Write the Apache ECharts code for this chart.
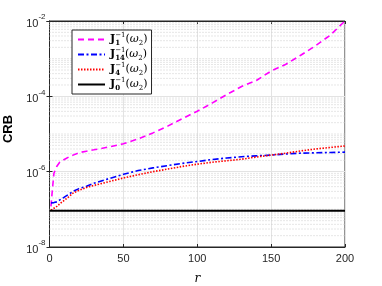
<!DOCTYPE html>
<html><head><meta charset="utf-8">
<script src="https://cdn.jsdelivr.net/npm/echarts@6/dist/echarts.min.js"></script>
<style>html,body{margin:0;padding:0;background:#fff}#c{width:382px;height:286px}</style>
</head><body><div id="c"></div>
<script>
// ---- data ----
const r = [1,2,3,5,7,10,13,16,20,25,30,40,50,60,70,80,90,100,110,120,130,140,150,160,170,180,190,200];
const crbJ1 = [1.2e-7,3.5e-7,9.1e-7,1.4e-6,1.8e-6,2.1e-6,2.45e-6,2.75e-6,3.2e-6,3.5e-6,3.8e-6,4.5e-6,5.5e-6,7.4e-6,1.07e-5,1.62e-5,2.57e-5,4.0e-5,6.6e-5,1.12e-4,1.82e-4,2.63e-4,4.7e-4,7.1e-4,1.23e-3,2.2e-3,4.2e-3,1.0e-2];
const crbJ14 = [1.48e-7,1.48e-7,1.51e-7,1.58e-7,1.78e-7,2.1e-7,2.5e-7,3.0e-7,3.55e-7,4.1e-7,4.9e-7,6.5e-7,8.5e-7,1.07e-6,1.26e-6,1.45e-6,1.66e-6,1.86e-6,2.1e-6,2.3e-6,2.5e-6,2.63e-6,2.75e-6,2.95e-6,3.1e-6,3.16e-6,3.24e-6,3.3e-6];
const crbJ4 = [9.5e-8,1.0e-7,1.07e-7,1.2e-7,1.41e-7,1.74e-7,2.14e-7,2.7e-7,3.2e-7,3.8e-7,4.3e-7,5.4e-7,6.8e-7,8.3e-7,1.0e-6,1.17e-6,1.38e-6,1.58e-6,1.78e-6,1.95e-6,2.14e-6,2.45e-6,2.75e-6,3.1e-6,3.55e-6,4.0e-6,4.4e-6,4.8e-6];
const rJ0 = [0, 200];
const crbJ0 = [9.2e-8, 9.2e-8];
const yTickExps = [-8, -6, -4, -2];
const seriesNames = ['J1', 'J14', 'J4', 'J0'];
const subs = {J1: '1', J14: '14', J4: '4', J0: '0'};

// minor grid positions (MATLAB style log minor grid)
const minorVals = [];
for (let e = -8; e < -2; e++) for (let k = 1; k <= 9; k++) {
  const v = k * Math.pow(10, e);
  if (!(k === 1 && yTickExps.includes(e))) minorVals.push(v);
}
const minorGridData = [];
minorVals.forEach(v => { minorGridData.push([0, v], [200, v], [100, '-']); });

const axisCol = '#262626';
const chart = echarts.init(document.getElementById('c'), null, {renderer: 'canvas'});
const pairs = (xs, ys) => xs.map((x, i) => [x, ys[i]]);

const legendRich = {
  j: {fontFamily: 'DejaVu Serif', fontWeight: 'bold', fontSize: 11, color: '#000', lineHeight: 15},
  sup: {fontFamily: 'DejaVu Serif', fontSize: 7, color: '#000', verticalAlign: 'top', lineHeight: 15},
  sup0: {fontFamily: 'DejaVu Serif', fontSize: 7, color: '#000', verticalAlign: 'top', lineHeight: 15, width: 0},
  sub: {fontFamily: 'DejaVu Serif', fontWeight: 'bold', fontSize: 7, color: '#000', verticalAlign: 'bottom', lineHeight: 15},
  sub0: {fontFamily: 'DejaVu Serif', fontWeight: 'bold', fontSize: 7, color: '#000', verticalAlign: 'bottom', lineHeight: 15, width: 0},
  t: {fontFamily: 'DejaVu Serif', fontSize: 11, color: '#000', lineHeight: 15},
  w: {fontFamily: 'DejaVu Serif', fontStyle: 'italic', fontSize: 11, color: '#000', lineHeight: 15},
  s2: {fontFamily: 'DejaVu Serif', fontSize: 7, color: '#000', verticalAlign: 'bottom', lineHeight: 15}
};

function legendFmt(name) {
  const s = subs[name];
  const mid = s.length > 1 ? '{sup0|−1}{sub|' + s + '}' : '{sub0|' + s + '}{sup|−1}';
  return '{j|J}' + mid + '{t|(}{w|ω}{s2|2}{t|)}';
}

const lineBase = {type: 'line', showSymbol: false, symbol: 'none', z: 5, smooth: false};

const option = {
  animation: false,
  backgroundColor: '#fff',
  grid: {left: 49.5, right: 37, top: 21, bottom: 39, containLabel: false, outerBoundsMode: 'none',
    show: true, borderColor: axisCol, borderWidth: 1, backgroundColor: 'transparent'},
  legend: {
    orient: 'vertical', left: 72, top: 30, padding: [2, 4, 2, 5],
    itemWidth: 27, itemHeight: 10, itemGap: 0,
    borderColor: axisCol, borderWidth: 1, backgroundColor: '#fff',
    itemStyle: {opacity: 0},
    data: seriesNames,
    formatter: legendFmt,
    textStyle: {rich: legendRich}
  },
  xAxis: [{
    type: 'value', min: 0, max: 200, interval: 50,
    name: 'r', nameLocation: 'middle', nameGap: 26,
    nameTextStyle: {fontFamily: 'DejaVu Serif', fontStyle: 'italic', fontSize: 12, color: '#000'},
    axisLine: {show: true, lineStyle: {color: axisCol, width: 1}},
    axisTick: {show: true, inside: true, length: 3, lineStyle: {color: axisCol}},
    axisLabel: {fontFamily: 'Liberation Sans', fontSize: 11, color: axisCol, margin: 6},
    splitLine: {show: true, lineStyle: {color: '#e3e3e3', width: 1}}
  }, {
    type: 'value', min: 0, max: 200, interval: 50, position: 'top',
    axisLine: {show: true, lineStyle: {color: axisCol}},
    axisTick: {show: true, inside: true, length: 3, lineStyle: {color: axisCol}},
    axisLabel: {show: false}, splitLine: {show: false}
  }],
  yAxis: [{
    type: 'log', logBase: 10, min: 1e-8, max: 1e-2, interval: 2,
    name: 'CRB', nameLocation: 'middle', nameGap: 26,
    nameTextStyle: {fontFamily: 'Liberation Sans', fontWeight: 'bold', fontSize: 13, color: '#000', padding: [0, 0, 0, 10]},
    axisLine: {show: true, lineStyle: {color: axisCol, width: 1}},
    axisTick: {show: true, inside: true, length: 3, lineStyle: {color: axisCol}},
    axisLabel: {
      margin: 4,
      formatter: v => '{b|10}{s|' + Math.round(Math.log10(v)) + '}',
      rich: {
        b: {fontFamily: 'Liberation Sans', fontSize: 11, color: axisCol, lineHeight: 16, verticalAlign: 'bottom'},
        s: {fontFamily: 'Liberation Sans', fontSize: 8, color: axisCol, lineHeight: 16, verticalAlign: 'top'}
      }
    },
    splitLine: {show: true, lineStyle: {color: '#e3e3e3', width: 1}}
  }, {
    type: 'log', logBase: 10, min: 1e-8, max: 1e-2, interval: 2, position: 'right',
    axisLine: {show: true, lineStyle: {color: axisCol}},
    axisTick: {show: true, inside: true, length: 3, lineStyle: {color: axisCol}},
    axisLabel: {show: false}, splitLine: {show: false}
  }],
  series: [
    {type: 'line', name: 'minorGrid', data: minorGridData, showSymbol: false, symbol: 'none', silent: true,
      connectNulls: false, z: 1, lineStyle: {type: [1, 2], color: '#cccccc', width: 1}},
    Object.assign({}, lineBase, {name: 'J1', data: pairs(r, crbJ1),
      lineStyle: {color: '#ff00ff', width: 1.6, type: [6, 4]}, itemStyle: {color: '#ff00ff'}}),
    Object.assign({}, lineBase, {name: 'J14', data: pairs(r, crbJ14),
      lineStyle: {color: '#0000ff', width: 1.6, type: [6, 2.5, 2, 2.5]}, itemStyle: {color: '#0000ff'}}),
    Object.assign({}, lineBase, {name: 'J4', data: pairs(r, crbJ4),
      lineStyle: {color: '#ff0000', width: 1.6, type: [1.5, 1.5]}, itemStyle: {color: '#ff0000'}}),
    Object.assign({}, lineBase, {name: 'J0', data: pairs(rJ0, crbJ0),
      lineStyle: {color: '#000000', width: 2, type: 'solid'}, itemStyle: {color: '#000000'}})
  ]
};
chart.setOption(option);
</script></body></html>
